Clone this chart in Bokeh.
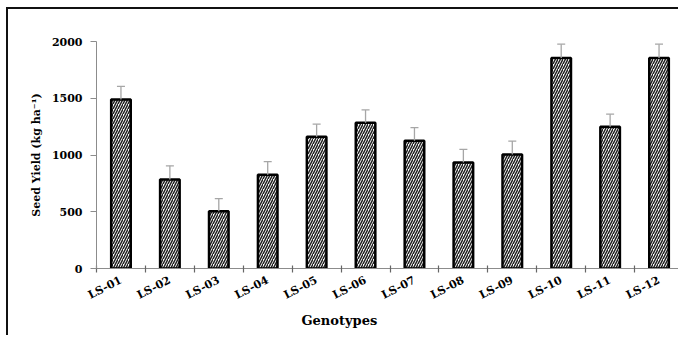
from bokeh.plotting import figure
from bokeh.models import ColumnDataSource, FixedTicker, Whisker, TeeHead, Title, Range1d
from bokeh.embed import file_html
from bokeh.resources import INLINE

genotypes = ["LS-01", "LS-02", "LS-03", "LS-04", "LS-05", "LS-06",
             "LS-07", "LS-08", "LS-09", "LS-10", "LS-11", "LS-12"]
seed_yield = [1490, 785, 505, 825, 1160, 1285, 1125, 935, 1005, 1855, 1250, 1855]
errors = [115, 120, 110, 117, 112, 112, 117, 115, 118, 121, 110, 121]
y_ticks = [0, 500, 1000, 1500, 2000]

n = len(genotypes)
xs = [i + 0.5 for i in range(n)]
src = ColumnDataSource(dict(
    x=xs, top=seed_yield,
    upper=[v + e for v, e in zip(seed_yield, errors)],
    name=genotypes,
))

FONT = "DejaVu Serif"
GREY = "#8c8c8c"

p = figure(width=678, height=328, output_backend="svg",
           toolbar_location=None,
           x_range=Range1d(0, n), y_range=Range1d(0, 2000),
           min_border_left=88, min_border_top=32, min_border_bottom=69,
           min_border_right=3)
p.styles = {"border-left": "2px solid #111", "border-top": "2px solid #111",
            "margin-left": "6px", "margin-top": "7px"}
p.outline_line_color = None
p.grid.visible = False

p.vbar(x="x", top="top", width=0.4, source=src, fill_color="white",
       line_color="black", line_width=2.5,
       hatch_pattern="right_diagonal_line", hatch_color="#222222",
       hatch_scale=5, hatch_weight=1.5)

w = Whisker(source=src, base="x", lower="top", upper="upper", dimension="height",
            line_color="#a6a6a6", line_width=1.3,
            upper_head=TeeHead(size=8, line_color="#a6a6a6", line_width=1.3),
            lower_head=None, level="glyph")
p.add_layout(w)

# y axis
ya = p.yaxis[0]
ya.ticker = FixedTicker(ticks=y_ticks, minor_ticks=[])
ya.axis_line_color = GREY
ya.major_tick_line_color = GREY
ya.major_tick_in = 0
ya.major_tick_out = 6
ya.minor_tick_line_color = None
ya.major_label_text_font = FONT
ya.major_label_text_font_style = "bold"
ya.major_label_text_font_size = "11px"
ya.major_label_text_color = "black"
ya.major_label_standoff = 8
ya.axis_label = "Seed Yield (kg ha\u207b\u00b9)"
ya.axis_label_text_font = FONT
ya.axis_label_text_font_style = "bold"
ya.axis_label_text_font_size = "11px"
ya.axis_label_text_color = "black"
ya.axis_label_standoff = 6

# x axis
xa = p.xaxis[0]
xa.ticker = FixedTicker(ticks=xs, minor_ticks=list(range(n + 1)))
xa.major_label_overrides = {x: g for x, g in zip(xs, genotypes)}
xa.major_label_orientation = 0.47
xa.axis_line_color = GREY
xa.major_tick_line_color = None
xa.minor_tick_line_color = "#666666"
xa.minor_tick_line_width = 1.2
xa.minor_tick_in = 3
xa.minor_tick_out = 4
xa.major_label_text_font = FONT
xa.major_label_text_font_style = "bold"
xa.major_label_text_font_size = "11px"
xa.major_label_text_color = "black"
xa.major_label_standoff = 5

p.add_layout(Title(text="Genotypes", text_font=FONT, text_font_style="bold",
                   text_font_size="13px", text_color="black", align="left",
                   offset=205, standoff=0), "below")

open("out.html", "w").write(file_html(p, INLINE))
